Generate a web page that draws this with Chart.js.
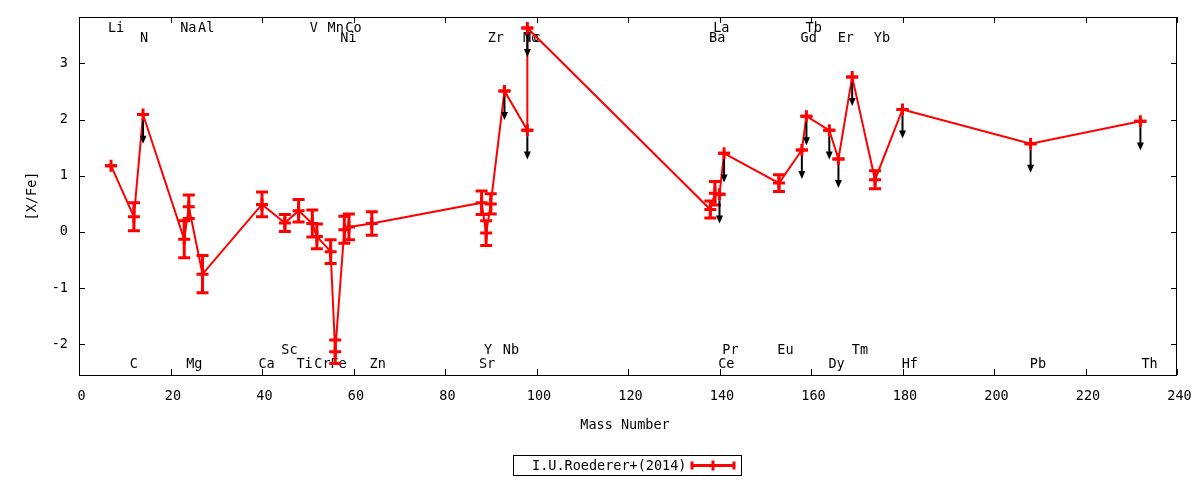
<!DOCTYPE html>
<html><head><meta charset="utf-8">
<script src="https://cdn.jsdelivr.net/npm/chart.js@4/dist/chart.umd.min.js"></script>
<style>html,body{margin:0;padding:0;background:#fff;}canvas{display:block;}</style>
</head><body>
<canvas id="c" width="1200" height="480"></canvas>
<script>
// ---- data ----
const elements   = ['Li','C','N','Na','Mg','Al','Ca','Sc','Ti','V','Cr','Mn','Fe','Ni','Co','Zn','Sr','Y','Zr','Nb','Mo','Tc','Ba','La','Ce','Pr','Eu','Gd','Tb','Dy','Er','Tm','Yb','Hf','Pb','Th'];
const massNumber = [7,12,14,23,24,27,40,45,48,51,52,55,56,58,59,64,88,89,90,93,98,98,138,139,140,141,153,158,159,164,166,169,174,180,208,232];
const xfe        = [1.18,0.27,2.09,-0.13,0.45,-0.75,0.49,0.16,0.38,0.15,-0.08,-0.35,-2.13,0.04,0.09,0.15,0.52,-0.02,0.50,2.51,1.81,3.63,0.40,0.69,0.67,1.40,0.87,1.46,2.06,1.81,1.30,2.76,0.93,2.18,1.57,1.97];
const xfeErr     = [0,0.25,0,0.33,0.21,0.33,0.22,0.15,0.20,0.24,0.22,0.21,0.21,0.24,0.23,0.21,0.21,0.22,0.18,0,0,0,0.15,0.21,0,0,0.15,0,0,0,0,0,0.16,0,0,0];
const upperLimit = [0,0,1,0,0,0,0,0,0,0,0,0,0,0,0,0,0,0,0,1,1,1,0,0,1,1,0,1,1,1,1,1,0,1,1,1];
const limitArrowLength = 0.5;

// element labels along the frame
const labelText = ['Li','Na','Al','V','Mn','Co','La','Tb',
                   'N','Ni','Zr','Mo','Tc','Ba','Gd','Er','Yb',
                   'Sc','Y','Nb','Pr','Eu','Tm',
                   'C','Mg','Ca','Ti','Cr','Fe','Zn','Sr','Ce','Dy','Hf','Pb','Th'];
const labelMass = [8.1,23.9,27.8,51.3,56.1,60.0,140.4,160.6,
                   14.2,58.9,91.1,98.8,99.2,139.5,159.5,167.6,175.5,
                   46.0,89.4,94.4,142.4,154.4,170.7,
                   12.0,25.2,41.0,49.3,53.2,56.7,65.3,89.2,141.5,165.6,181.6,209.6,234.0];
const labelRow  = [0,0,0,0,0,0,0,0,
                   1,1,1,1,1,1,1,1,1,
                   2,2,2,2,2,2,
                   3,3,3,3,3,3,3,3,3,3,3,3,3];

const xTickValues = [0,20,40,60,80,100,120,140,160,180,200,220,240];
const yTickValues = [-2,-1,0,1,2,3];
const xRange = [0,240];
const yRange = [-2.545,3.826];
const seriesName = 'I.U.Roederer+(2014)';
const xTitle = 'Mass Number';
const yTitle = '[X/Fe]';

// ---- styling ----
const FONT = '"DejaVu Sans Mono", monospace';
const FSIZE = 13.5;
const RED = '#ff0000';

const decor = {
  id: 'decor',
  beforeDatasetsDraw(chart) {
    const {ctx, chartArea: a, scales: {x}} = chart;
    const rowY = [a.top + 11, a.top + 21, a.bottom - 25, a.bottom - 11];
    ctx.save();
    ctx.font = FSIZE + 'px ' + FONT;
    ctx.fillStyle = '#000';
    ctx.textAlign = 'center';
    ctx.textBaseline = 'middle';
    for (let i = 0; i < labelText.length; i++) {
      ctx.fillText(labelText[i], x.getPixelForValue(labelMass[i]), rowY[labelRow[i]]);
    }
    ctx.restore();
  },
  afterDatasetsDraw(chart) {
    const {ctx, chartArea: a, scales: {x, y}} = chart;
    ctx.save();
    // error bars
    ctx.strokeStyle = RED;
    ctx.lineWidth = 3;
    for (let i = 0; i < massNumber.length; i++) {
      const px = x.getPixelForValue(massNumber[i]);
      const y1 = y.getPixelForValue(xfe[i] + xfeErr[i]);
      const y2 = y.getPixelForValue(xfe[i] - xfeErr[i]);
      ctx.beginPath();
      ctx.moveTo(px, y1); ctx.lineTo(px, y2);
      ctx.moveTo(px - 6, y1); ctx.lineTo(px + 6, y1);
      ctx.moveTo(px - 6, y2); ctx.lineTo(px + 6, y2);
      ctx.stroke();
    }
    // upper-limit arrows
    ctx.strokeStyle = '#000';
    ctx.fillStyle = '#000';
    ctx.lineWidth = 2;
    for (let i = 0; i < massNumber.length; i++) {
      if (!upperLimit[i]) continue;
      const px = x.getPixelForValue(massNumber[i]);
      const y0 = y.getPixelForValue(xfe[i]) + 6;
      const y1 = y.getPixelForValue(xfe[i] - limitArrowLength);
      ctx.beginPath();
      ctx.moveTo(px, y0); ctx.lineTo(px, y1 - 4);
      ctx.stroke();
      ctx.beginPath();
      ctx.moveTo(px, y1 + 1);
      ctx.lineTo(px - 3.5, y1 - 7);
      ctx.lineTo(px + 3.5, y1 - 7);
      ctx.closePath();
      ctx.fill();
    }
    // frame
    ctx.strokeStyle = '#000';
    ctx.lineWidth = 1;
    ctx.strokeRect(Math.round(a.left) + 0.5, Math.round(a.top) + 0.5, Math.round(a.right - a.left) - 1, Math.round(a.bottom - a.top));
    // inward ticks on all four sides
    ctx.beginPath();
    for (const t of x.ticks) {
      const px = Math.round(x.getPixelForValue(t.value)) + 0.5;
      ctx.moveTo(px, a.bottom); ctx.lineTo(px, a.bottom - 6);
      ctx.moveTo(px, a.top); ctx.lineTo(px, a.top + 6);
    }
    for (const t of y.ticks) {
      const py = Math.round(y.getPixelForValue(t.value)) + 0.5;
      ctx.moveTo(a.left, py); ctx.lineTo(a.left + 6, py);
      ctx.moveTo(a.right, py); ctx.lineTo(a.right - 6, py);
    }
    ctx.stroke();
    // axis titles
    ctx.font = FSIZE + 'px ' + FONT;
    ctx.fillStyle = '#000';
    ctx.textAlign = 'center';
    ctx.textBaseline = 'middle';
    ctx.fillText(xTitle, (a.left + a.right) / 2 - 3, a.bottom + 50);
    ctx.save();
    ctx.translate(32, (a.top + a.bottom) / 2);
    ctx.rotate(-Math.PI / 2);
    ctx.fillText(yTitle, 0, 0);
    ctx.restore();
    // legend box
    const lx = 513.5, ly = 455.5, lw = 228, lh = 20;
    ctx.lineWidth = 1;
    ctx.strokeRect(lx, ly, lw, lh);
    ctx.textAlign = 'left';
    ctx.fillText(seriesName, 532, ly + lh / 2 + 0.5);
    const sy = ly + lh / 2;
    ctx.strokeStyle = RED;
    ctx.lineWidth = 3;
    ctx.beginPath();
    ctx.moveTo(692, sy); ctx.lineTo(734, sy);
    ctx.moveTo(692, sy - 4); ctx.lineTo(692, sy + 4);
    ctx.moveTo(734, sy - 4); ctx.lineTo(734, sy + 4);
    ctx.moveTo(713, sy - 5); ctx.lineTo(713, sy + 5);
    ctx.stroke();
    ctx.restore();
  }
};

new Chart(document.getElementById('c'), {
  type: 'line',
  data: {
    datasets: [{
      label: seriesName,
      data: massNumber.map((m, i) => ({x: m, y: xfe[i]})),
      borderColor: RED,
      backgroundColor: RED,
      borderWidth: 2,
      tension: 0,
      pointStyle: 'cross',
      pointRadius: 6,
      pointBorderWidth: 3,
      pointBorderColor: RED,
      pointHoverRadius: 6,
      clip: false
    }]
  },
  options: {
    responsive: false,
    animation: false,
    devicePixelRatio: 1,
    events: [],
    layout: {padding: {left: 0, top: 17, right: 23, bottom: 0}},
    plugins: {legend: {display: false}, tooltip: {enabled: false}, title: {display: false}},
    scales: {
      x: {
        type: 'linear', position: 'bottom',
        min: xRange[0], max: xRange[1],
        afterBuildTicks: s => { s.ticks = xTickValues.map(v => ({value: v})); },
        afterFit: s => { s.height = 105; s.paddingLeft = 0; s.paddingRight = 0; },
        grid: {display: false, drawTicks: false},
        border: {display: false},
        ticks: {color: '#000', font: {family: FONT, size: FSIZE}, padding: 13, labelOffset: 2.5, maxRotation: 0, autoSkip: false}
      },
      y: {
        type: 'linear', position: 'left',
        min: yRange[0], max: yRange[1],
        afterBuildTicks: s => { s.ticks = yTickValues.map(v => ({value: v})); },
        afterFit: s => { s.width = 79; s.paddingTop = 0; s.paddingBottom = 0; },
        grid: {display: false, drawTicks: false},
        border: {display: false},
        ticks: {color: '#000', font: {family: FONT, size: FSIZE}, padding: 11}
      }
    }
  },
  plugins: [decor]
});
</script>
</body></html>
